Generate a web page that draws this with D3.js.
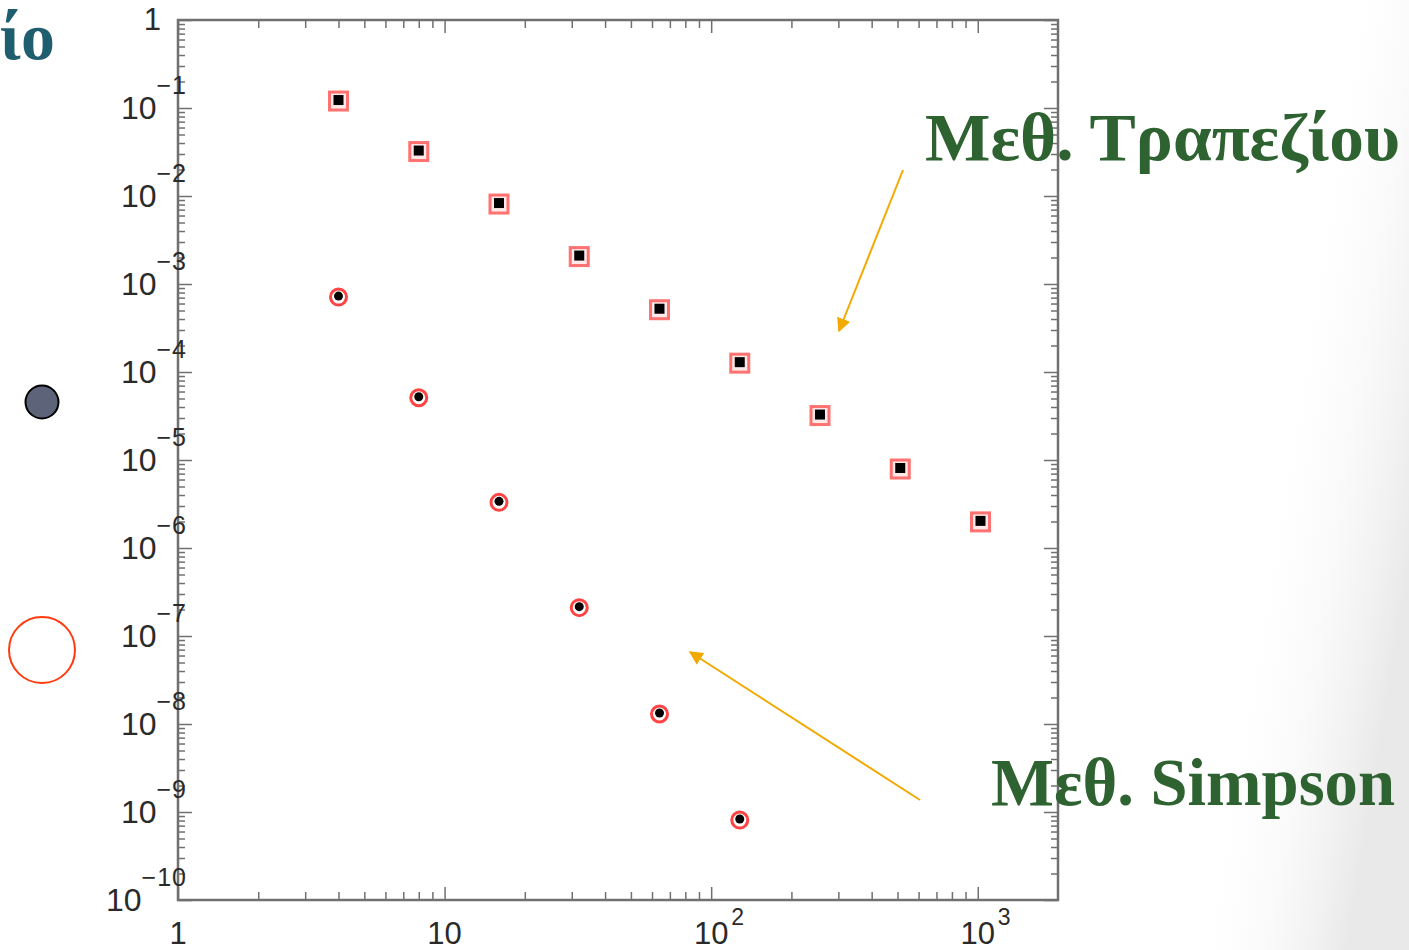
<!DOCTYPE html>
<html>
<head>
<meta charset="utf-8">
<script src="https://cdn.jsdelivr.net/npm/d3@7"></script>
<style>
  body { margin: 0; background: #fff; }
  svg { display: block; }
</style>
</head>
<body>
<svg id="chart" width="1409" height="950"></svg>
<script>
// error vs number of intervals, log-log
const trapN = [4, 8, 16, 32, 64, 128, 256, 512, 1024];
const trapErr = [0.12, 0.032, 0.0081, 0.00205, 5.1e-4, 1.26e-4, 3.2e-5, 7.9e-6, 1.98e-6];

const simpN = [4, 8, 16, 32, 64, 128];
const simpErr = [7.1e-4, 5.1e-5, 3.3e-6, 2.1e-7, 1.3e-8, 8.1e-10];

const xMajor = [1, 10, 100, 1000];
const xLabels = [["1", ""], ["10", ""], ["10", "2"], ["10", "3"]];
const yExp = [0, -1, -2, -3, -4, -5, -6, -7, -8, -9, -10];

const trapLabel = "Μεθ. Τραπεζίου";
const simpLabel = "Μεθ. Simpson";

const svg = d3.select("#chart");
const width = +svg.attr("width");
const height = +svg.attr("height");

const box = { left: 178, right: 1058, top: 20, bottom: 900 };

const x = d3.scaleLog().domain([1, 2000]).range([box.left, box.right]);
const y = d3.scaleLog().domain([1e-10, 1]).range([box.bottom, box.top]);

// faint grey shade towards the lower right corner
const defs = svg.append("defs");
const grad = defs.append("linearGradient").attr("id", "shade")
  .attr("x1", "0").attr("x2", "1").attr("y1", "0").attr("y2", "0.6");
grad.append("stop").attr("offset", "0.55").attr("stop-color", "#fff").attr("stop-opacity", 0);
grad.append("stop").attr("offset", "1").attr("stop-color", "#e9e9e9").attr("stop-opacity", 1);
svg.append("rect").attr("x", 1150).attr("y", 0).attr("width", width - 1150).attr("height", height)
  .attr("fill", "url(#shade)");

defs.append("marker").attr("id", "head")
  .attr("viewBox", "0 0 10 10").attr("refX", 9).attr("refY", 5)
  .attr("markerWidth", 7).attr("markerHeight", 7).attr("orient", "auto")
  .append("path").attr("d", "M0,0 L10,5 L0,10 z").attr("fill", "#f2a900");

// minor ticks for a log scale
const minorX = [];
for (let p = 0; p < 4; p++) for (let k = 2; k <= 9; k++) {
  const v = k * Math.pow(10, p);
  if (v < 2000) minorX.push(v);
}
const minorY = [];
for (let p = -10; p < 0; p++) for (let k = 2; k <= 9; k++) minorY.push(k * Math.pow(10, p));
const majorY = yExp.map(e => Math.pow(10, e));

const axisColor = "#707070";

function styleAxis(g) {
  g.select(".domain").remove();
  g.selectAll(".tick line").attr("stroke", axisColor).attr("stroke-width", 1.5);
}

// bottom + top
svg.append("g").attr("transform", `translate(0,${box.bottom})`)
  .call(d3.axisBottom(x).tickValues(xMajor).tickSize(-13).tickFormat("")).call(styleAxis);
svg.append("g").attr("transform", `translate(0,${box.bottom})`)
  .call(d3.axisBottom(x).tickValues(minorX).tickSize(-8).tickFormat("")).call(styleAxis);
svg.append("g").attr("transform", `translate(0,${box.top})`)
  .call(d3.axisTop(x).tickValues(xMajor).tickSize(-13).tickFormat("")).call(styleAxis);
svg.append("g").attr("transform", `translate(0,${box.top})`)
  .call(d3.axisTop(x).tickValues(minorX).tickSize(-8).tickFormat("")).call(styleAxis);

// left + right
svg.append("g").attr("transform", `translate(${box.left},0)`)
  .call(d3.axisLeft(y).tickValues(majorY).tickSize(-14).tickFormat("")).call(styleAxis);
svg.append("g").attr("transform", `translate(${box.left},0)`)
  .call(d3.axisLeft(y).tickValues(minorY).tickSize(-7).tickFormat("")).call(styleAxis);
svg.append("g").attr("transform", `translate(${box.right},0)`)
  .call(d3.axisRight(y).tickValues(majorY).tickSize(-14).tickFormat("")).call(styleAxis);
svg.append("g").attr("transform", `translate(${box.right},0)`)
  .call(d3.axisRight(y).tickValues(minorY).tickSize(-7).tickFormat("")).call(styleAxis);

svg.append("rect")
  .attr("x", box.left).attr("y", box.top)
  .attr("width", box.right - box.left).attr("height", box.bottom - box.top)
  .attr("fill", "none").attr("stroke", axisColor).attr("stroke-width", 2.5);

// tick labels
const labelFont = "'Liberation Sans', Arial, sans-serif";
const labelColor = "#2a2a2a";

xMajor.forEach((v, i) => {
  const px = x(v);
  svg.append("text").attr("x", px).attr("y", 944)
    .attr("text-anchor", "middle").attr("font-family", labelFont)
    .attr("font-size", 31).attr("fill", labelColor).text(xLabels[i][0]);
  if (xLabels[i][1]) {
    svg.append("text").attr("x", px + 20).attr("y", 925)
      .attr("font-family", labelFont).attr("font-size", 23)
      .attr("fill", labelColor).text(xLabels[i][1]);
  }
});

yExp.forEach(e => {
  const py = y(Math.pow(10, e));
  if (e === 0) {
    svg.append("text").attr("x", 161).attr("y", py + 10)
      .attr("text-anchor", "end").attr("font-family", labelFont)
      .attr("font-size", 31).attr("fill", labelColor).text("1");
    return;
  }
  const t = svg.append("text").attr("x", 187).attr("y", py + 11)
    .attr("text-anchor", "end").attr("font-family", labelFont)
    .attr("fill", labelColor);
  t.append("tspan").attr("font-size", 32).text("10");
  t.append("tspan").attr("font-size", 25).attr("dy", -25).attr("letter-spacing", 1)
    .text("\u2212" + Math.abs(e));
});

// trapezoid points
const trap = trapN.map((n, i) => ({ n, err: trapErr[i] }));
const simp = simpN.map((n, i) => ({ n, err: simpErr[i] }));

const tg = svg.append("g").selectAll("g").data(trap).join("g")
  .attr("transform", d => `translate(${x(d.n)},${y(d.err)})`);
tg.append("rect").attr("x", -9).attr("y", -9).attr("width", 18).attr("height", 18)
  .attr("fill", "#ffe8e8").attr("stroke", "#ff5a5a").attr("stroke-opacity", 0.85)
  .attr("stroke-width", 3);
tg.append("rect").attr("x", -5).attr("y", -6).attr("width", 10).attr("height", 10)
  .attr("fill", "#000");

const sg = svg.append("g").selectAll("g").data(simp).join("g")
  .attr("transform", d => `translate(${x(d.n)},${y(d.err)})`);
sg.append("circle").attr("r", 8).attr("fill", "#fff")
  .attr("stroke", "#ff3030").attr("stroke-opacity", 0.9).attr("stroke-width", 3);
sg.append("circle").attr("cy", -1).attr("r", 4.5).attr("fill", "#000");

// arrows
svg.append("line").attr("x1", 903).attr("y1", 170).attr("x2", 839).attr("y2", 331)
  .attr("stroke", "#f2a900").attr("stroke-width", 2).attr("marker-end", "url(#head)");
svg.append("line").attr("x1", 920).attr("y1", 800).attr("x2", 690).attr("y2", 652)
  .attr("stroke", "#f2a900").attr("stroke-width", 2).attr("marker-end", "url(#head)");

// annotations
const serif = "'Liberation Serif', 'DejaVu Serif', serif";
svg.append("text").attr("x", 925).attr("y", 160)
  .attr("font-family", serif).attr("font-weight", "bold").attr("font-size", 68)
  .attr("fill", "#2e6331").attr("textLength", 475).attr("lengthAdjust", "spacingAndGlyphs")
  .text(trapLabel);
svg.append("text").attr("x", 991).attr("y", 805)
  .attr("font-family", serif).attr("font-weight", "bold").attr("font-size", 68)
  .attr("fill", "#2e6331").attr("textLength", 404).attr("lengthAdjust", "spacingAndGlyphs")
  .text(simpLabel);

// slide leftovers on the left edge
svg.append("text").attr("x", 0).attr("y", 59)
  .attr("font-family", serif).attr("font-weight", "bold").attr("font-size", 68)
  .attr("fill", "#1f5e6e").attr("textLength", 55).attr("lengthAdjust", "spacingAndGlyphs")
  .text("ίο");
svg.append("circle").attr("cx", 42).attr("cy", 402).attr("r", 16.5)
  .attr("fill", "#5d6479").attr("stroke", "#000").attr("stroke-width", 2);
svg.append("circle").attr("cx", 42).attr("cy", 650).attr("r", 33)
  .attr("fill", "none").attr("stroke", "#ff3b0f").attr("stroke-width", 2);
</script>
</body>
</html>
